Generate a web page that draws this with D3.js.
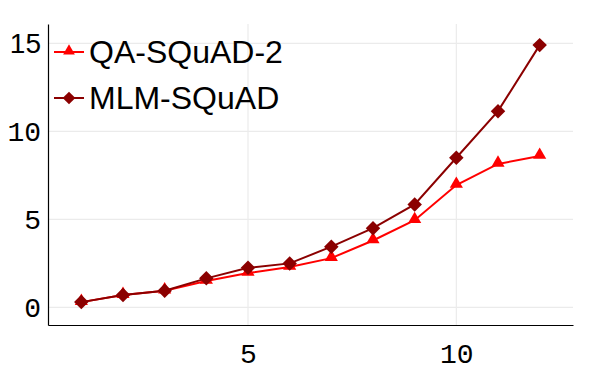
<!DOCTYPE html>
<html>
<head>
<meta charset="utf-8">
<script src="https://cdn.jsdelivr.net/npm/d3@7"></script>
<style>
  body { margin: 0; background: #fff; }
</style>
</head>
<body>
<div id="chart"></div>
<script>
// Series values
const steps = [1, 2, 3, 4, 5, 6, 7, 8, 9, 10, 11, 12];
const qaSquad2 = [0.3, 0.7, 0.95, 1.5, 1.95, 2.3, 2.8, 3.8, 4.95, 6.95, 8.15, 8.6];
const mlmSquad = [0.3, 0.7, 0.95, 1.65, 2.25, 2.5, 3.45, 4.5, 5.85, 8.5, 11.15, 14.9];
const xTicks = [5, 10];
const yTicks = [0, 5, 10, 15];
const seriesNames = ["QA-SQuAD-2", "MLM-SQuAD"];

const width = 599, height = 370;
const margin = {top: 24, right: 26, bottom: 45, left: 48};
const innerW = width - margin.left - margin.right;
const innerH = height - margin.top - margin.bottom;

const svg = d3.select("#chart").append("svg")
              .attr("width", width)
              .attr("height", height);

const g = svg.append("g")
             .attr("transform", "translate(" + margin.left + "," + margin.top + ")");

// Scales (hard-coded padded ranges like the original)
const xScale = d3.scaleLinear().domain([0.2, 12.8]).range([0, innerW]);
const yScale = d3.scaleLinear().domain([-1.0, 16.1]).range([innerH, 0]);

// Grid lines
g.append("g").selectAll("line.xgrid")
 .data(xTicks).enter().append("line")
 .attr("x1", d => xScale(d)).attr("x2", d => xScale(d))
 .attr("y1", 0).attr("y2", innerH)
 .attr("stroke", "#ebebeb").attr("stroke-width", 1.2);
g.append("g").selectAll("line.ygrid")
 .data(yTicks).enter().append("line")
 .attr("x1", 0).attr("x2", innerW)
 .attr("y1", d => yScale(d)).attr("y2", d => yScale(d))
 .attr("stroke", "#ebebeb").attr("stroke-width", 1.2);

// Axes
const xAxis = g.append("g")
               .attr("transform", "translate(0," + innerH + ")")
               .call(d3.axisBottom(xScale).tickValues(xTicks).tickSize(0).tickPadding(18));
xAxis.select(".domain").attr("stroke", "#000").attr("stroke-width", 1.2);
xAxis.selectAll("text")
     .style("font-family", "'Liberation Mono', monospace")
     .style("font-size", "28px")
     .attr("fill", "#000");

const yAxis = g.append("g")
               .call(d3.axisLeft(yScale).tickValues(yTicks).tickSize(0).tickPadding(7));
yAxis.select(".domain").attr("stroke", "#000").attr("stroke-width", 1.2);
yAxis.selectAll("text")
     .style("font-family", d => d === 15 ? "'Liberation Sans', Arial, sans-serif" : "'Liberation Mono', monospace")
     .style("font-size", "28px")
     .attr("fill", "#000");

// Line generator
const line = d3.line()
               .x((d, i) => xScale(steps[i]))
               .y(d => yScale(d));

const triangle = d3.symbol().type(d3.symbolTriangle).size(75);
const diamond = d3.symbol().type(d3.symbolSquare).size(105);

// QA-SQuAD-2 series (red triangles)
g.append("path")
 .datum(qaSquad2)
 .attr("d", line)
 .attr("fill", "none")
 .attr("stroke", "#ff0000")
 .attr("stroke-width", 2);
g.append("g").selectAll("path")
 .data(qaSquad2).enter().append("path")
 .attr("d", triangle)
 .attr("transform", (d, i) => "translate(" + xScale(steps[i]) + "," + (yScale(d) - 1) + ")")
 .attr("fill", "#ff0000");

// MLM-SQuAD series (dark red diamonds)
g.append("path")
 .datum(mlmSquad)
 .attr("d", line)
 .attr("fill", "none")
 .attr("stroke", "#8b0000")
 .attr("stroke-width", 2);
g.append("g").selectAll("path")
 .data(mlmSquad).enter().append("path")
 .attr("d", diamond)
 .attr("transform", (d, i) => "translate(" + xScale(steps[i]) + "," + yScale(d) + ") rotate(45)")
 .attr("fill", "#8b0000");

// Legend
const legendColors = ["#ff0000", "#8b0000"];
const legend = svg.append("g");
seriesNames.forEach(function (name, i) {
    const y = 52 + i * 46;
    legend.append("line")
          .attr("x1", 54).attr("x2", 84)
          .attr("y1", y).attr("y2", y)
          .attr("stroke", legendColors[i]).attr("stroke-width", 2);
    legend.append("path")
          .attr("d", i === 0 ? d3.symbol().type(d3.symbolTriangle).size(60)() : d3.symbol().type(d3.symbolSquare).size(80)())
          .attr("transform", "translate(69," + (i === 0 ? y - 1 : y) + ")" + (i === 1 ? " rotate(45)" : ""))
          .attr("fill", legendColors[i]);
    legend.append("text")
          .attr("x", 89).attr("y", y)
          .attr("dy", "0.35em")
          .style("font-family", "'Liberation Sans', Arial, sans-serif")
          .style("font-size", "32px")
          .attr("fill", "#000")
          .text(name);
});
</script>
</body>
</html>
